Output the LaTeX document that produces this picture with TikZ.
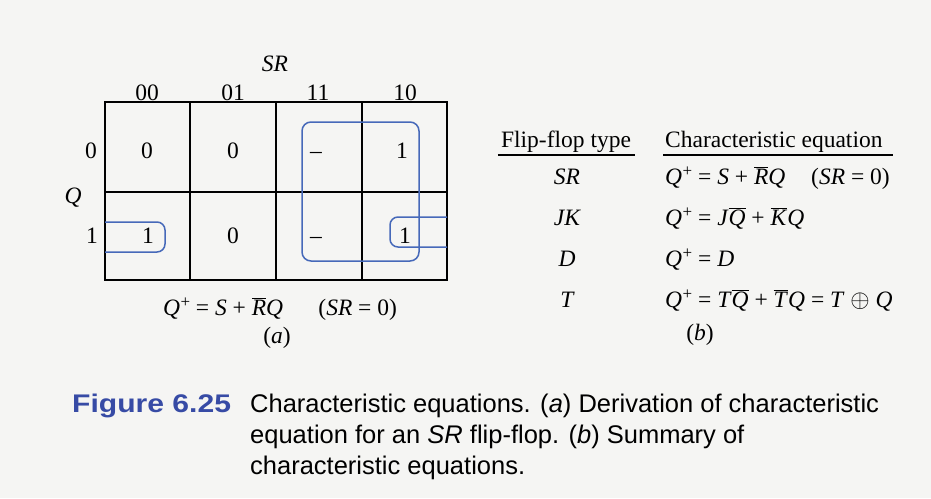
\documentclass[tikz,border=0pt]{standalone}
\usepackage{fontspec}
\setmainfont{Liberation Serif}
\newfontfamily\capfont{Liberation Sans}
\newfontfamily\figfont{Liberation Sans}[FakeStretch=1.18]
\usetikzlibrary{positioning}
\definecolor{loopblue}{RGB}{70,105,185}
\definecolor{figblue}{RGB}{55,75,165}
\definecolor{paper}{RGB}{245,245,243}
\newcommand{\ovl}[1]{$\overline{\mbox{#1}}$}
\newcommand{\qp}{\textit{Q}\kern0.5pt\raisebox{0.3em}{\fontsize{17}{17}\selectfont+}}

\begin{document}
\begin{tikzpicture}[x=1pt,y=-1pt,
  every node/.style={font=\fontsize{23.5}{28}\selectfont,inner sep=0pt},
  kval/.style={text height=16pt,text depth=0pt},
  grp/.style={draw=loopblue,line width=1.5pt,rounded corners=9pt},
  kgrid/.style={draw=black,line width=1.1pt},
  tabrule/.style={draw=black,line width=2pt},
  captext/.style={font=\capfont\fontsize{25.5}{31}\selectfont,align=left}]
\fill[paper] (0,0) rectangle (931,498);
\useasboundingbox (0,0) rectangle (931,498);
% Karnaugh map for Q+ of the SR flip-flop
\draw[kgrid] (105,102) rectangle (447,280);
\draw[kgrid] (105,192) -- (447,192);
\foreach \x in {190,276,362} \draw[kgrid] (\x,102) -- (\x,280);
\node[kval] (srlab) at (275,63) {\itshape SR};
\foreach \c/\x in {00/147,01/233,11/318,10/405}
  \node[kval] (col\c) at (\x,92) {\c};
\node[kval] (row0) at (91,150) {0};
\node[kval] (row1) at (92,235) {1};
\node[anchor=base] (qlab) at (73,203) {\itshape Q};
% cell values, row Q=0 then row Q=1
\node[kval] (q0c00) at (147,150) {0};
\node[kval] (q0c01) at (233,150) {0};
\node[kval] (q0c11) at (316,150) {--};
\node[kval] (q0c10) at (402,150) {1};
\node[kval] (q1c00) at (148,235) {1};
\node[kval] (q1c01) at (233,235) {0};
\node[kval] (q1c11) at (316,235) {--};
\node[kval] (q1c10) at (405,235) {1};
% loops
\draw[grp] (302,122) rectangle (419,261);
\draw[grp,rounded corners=8pt] (105,222) -- (165,222) -- (165,252) -- (105,252);
\draw[grp,rounded corners=8pt] (447,217) -- (390,217) -- (390,247) -- (447,247);
\node[anchor=base] (eqa) at (280,315)
  {\qp{} = \textit{S} + \ovl{\textit{R}}\textit{Q}\hspace{1.5em}(\textit{SR} = 0)};
\node[anchor=base] (alab) at (277,343) {(\textit{a})};
% summary table
\node[anchor=base] (hdtype) at (566,147) {Flip-flop type};
\node[anchor=base west] (hdeq) at (665,147) {Characteristic equation};
\draw[tabrule] ([xshift=-3pt,yshift=-3pt]hdtype.south west) -- ([xshift=4pt,yshift=-3pt]hdtype.south east);
\draw[tabrule] ([xshift=-2pt,yshift=-3pt]hdeq.south west) -- ([xshift=10pt,yshift=-3pt]hdeq.south east);
\node[anchor=base] (tsr) at (567,184) {\itshape SR};
\node[anchor=base] (tjk) at (567,225) {\itshape JK};
\node[anchor=base] (td) at (567,266) {\itshape D};
\node[anchor=base] (tt) at (567,307) {\itshape T};
\node[anchor=base west] (esr) at (665,184)
  {\qp{} = \textit{S} + \ovl{\textit{R}}\textit{Q}\hspace{1.1em}(\textit{SR} = 0)};
\node[anchor=base west] (ejk) at (665,225)
  {\qp{} = \textit{J}\ovl{\textit{Q}} + \ovl{\textit{K}}\textit{Q}};
\node[anchor=base west] (ed) at (665,266) {\qp{} = \textit{D}};
\node[anchor=base west] (et) at (665,307)
  {\qp{} = \textit{T}\ovl{\textit{Q}} + \ovl{\textit{T}}\textit{Q} = \textit{T} $\oplus$ \textit{Q}};
\node[anchor=base] (blab) at (700,340) {(\textit{b})};
% caption (base of a multi-line node is its last line)
\node[anchor=base west,text=figblue] (fignum) at (72,412)
  {\figfont\fontsize{25.5}{31}\selectfont\bfseries Figure 6.25};
\node[captext,anchor=base west] (captxt) at (250,474)
  {Characteristic equations. (\textit{a}) Derivation of characteristic\\
   equation for an \textit{SR} flip-flop. (\textit{b}) Summary of\\
   characteristic equations.};
\end{tikzpicture}
\end{document}
